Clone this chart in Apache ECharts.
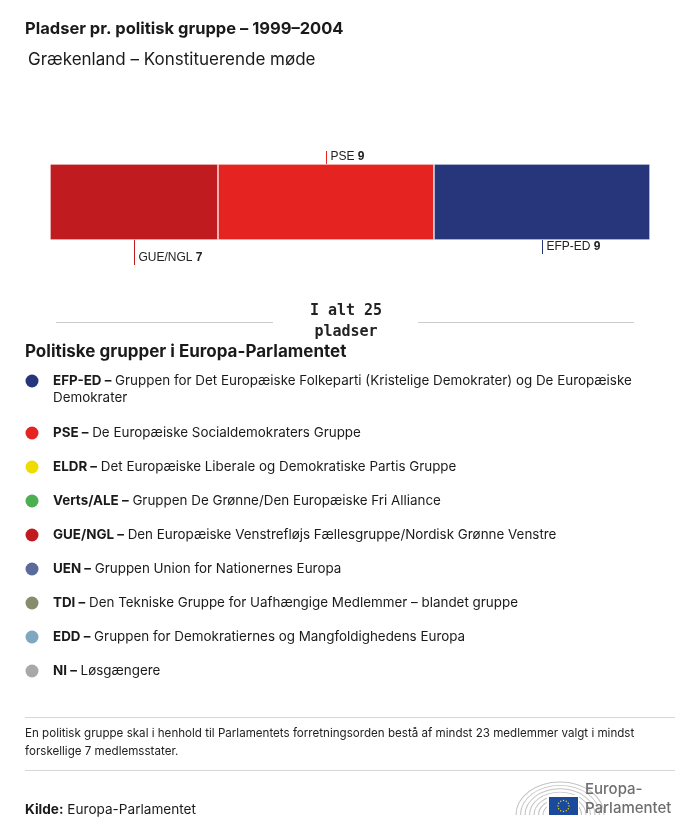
<!DOCTYPE html>
<html>
<head>
<meta charset="utf-8">
<script src="https://cdn.jsdelivr.net/npm/echarts@6/dist/echarts.min.js"></script>
<style>
html,body{margin:0;padding:0;background:#fff;}
#main{width:700px;height:836px;}
</style>
</head>
<body>
<div id="main"></div>
<script>
// ---- data ----
const groups = ['GUE/NGL', 'PSE', 'EFP-ED'];
const seats = [7, 9, 9];
const barColors = ['#C01B1E', '#E52421', '#27357B'];
const totalSeats = 25;

const legendCodes = ['EFP-ED', 'PSE', 'ELDR', 'Verts/ALE', 'GUE/NGL', 'UEN', 'TDI', 'EDD', 'NI'];
const legendNames = [
  'Gruppen for Det Europæiske Folkeparti (Kristelige Demokrater) og De Europæiske\nDemokrater',
  'De Europæiske Socialdemokraters Gruppe',
  'Det Europæiske Liberale og Demokratiske Partis Gruppe',
  'Gruppen De Grønne/Den Europæiske Fri Alliance',
  'Den Europæiske Venstrefløjs Fællesgruppe/Nordisk Grønne Venstre',
  'Gruppen Union for Nationernes Europa',
  'Den Tekniske Gruppe for Uafhængige Medlemmer – blandet gruppe',
  'Gruppen for Demokratiernes og Mangfoldighedens Europa',
  'Løsgængere'
];
const legendColors = ['#27357B', '#E52421', '#EEDC00', '#4CAF50', '#C01B1E', '#5A6A9A', '#878C6C', '#7FA7C0', '#A8A8A8'];

const titleText = 'Pladser pr. politisk gruppe – 1999–2004';
const subtitleText = 'Grækenland – Konstituerende møde';
const totalText = 'I alt ' + totalSeats + '\npladser';
const legendTitle = 'Politiske grupper i Europa-Parlamentet';
const footnote = 'En politisk gruppe skal i henhold til Parlamentets forretningsorden bestå af mindst 23 medlemmer valgt i mindst\nforskellige 7 medlemsstater.';

// ---- chart ----
const FONT = 'Inter, Roboto, sans-serif';
const LBL = '"Liberation Sans", Arial, sans-serif';
const chart = echarts.init(document.getElementById('main'), null, {renderer: 'canvas'});

const series = groups.map((g, i) => ({
  name: g,
  type: 'bar',
  stack: 'total',
  barWidth: '100%',
  data: [seats[i]],
  itemStyle: {color: barColors[i], borderColor: '#fff', borderWidth: 0.6},
  emphasis: {disabled: true},
  silent: true
}));

chart.setOption({
  animation: false,
  grid: {left: 50, right: 50, top: 164, height: 76},
  xAxis: {type: 'value', min: 0, max: totalSeats, show: false},
  yAxis: {type: 'category', data: ['Grækenland'], show: false},
  series: series
});

// ---- annotations via axis scale ----
const annotCfg = [
  {side: 'below', len: 25},
  {side: 'above', len: 13},
  {side: 'below', len: 14}
];
const barTop = 164, barBottom = 240;
const gfx = [];
let cum = 0;
groups.forEach((g, i) => {
  const mid = cum + seats[i] / 2;
  cum += seats[i];
  const x = Math.round(chart.convertToPixel({xAxisIndex: 0}, mid)) + 0.5;
  const c = annotCfg[i];
  const y1 = c.side === 'above' ? barTop - c.len : barBottom;
  const y2 = c.side === 'above' ? barTop : barBottom + c.len;
  gfx.push({type: 'line', shape: {x1: x, y1: y1, x2: x, y2: y2}, style: {stroke: barColors[i], lineWidth: 1}, silent: true});
  const ty = c.side === 'above' ? y1 + 6 : y2 - 7;
  gfx.push({
    type: 'text', x: x + 4, y: ty,
    style: {
      text: '{n|' + g + '} {v|' + seats[i] + '}',
      verticalAlign: 'middle',
      rich: {
        n: {fontFamily: LBL, fontSize: 12, fill: '#222'},
        v: {fontFamily: LBL, fontSize: 12, fontWeight: 'bold', fill: '#222'}
      }
    },
    silent: true
  });
});

// titles
gfx.push({type: 'text', x: 25, y: 29, style: {text: titleText, fontFamily: FONT, fontSize: 16.5, fontWeight: 'bold', fill: '#1a1a1a', verticalAlign: 'middle'}});
gfx.push({type: 'text', x: 28, y: 60, style: {text: subtitleText, fontFamily: FONT, fontSize: 17, fill: '#1a1a1a', verticalAlign: 'middle'}});

// total
gfx.push({type: 'line', shape: {x1: 56, y1: 322.5, x2: 273, y2: 322.5}, style: {stroke: '#cccccc', lineWidth: 1}});
gfx.push({type: 'line', shape: {x1: 418, y1: 322.5, x2: 634, y2: 322.5}, style: {stroke: '#cccccc', lineWidth: 1}});
gfx.push({type: 'text', x: 346, y: 322, style: {text: totalText, fontFamily: '"DejaVu Sans Mono", monospace', fontSize: 15, fontWeight: 'bold', fill: '#222', align: 'center', verticalAlign: 'middle', lineHeight: 21}});

// legend
gfx.push({type: 'text', x: 25, y: 352, style: {text: legendTitle, fontFamily: FONT, fontSize: 17, fontWeight: 'bold', fill: '#1a1a1a', verticalAlign: 'middle'}});
const rowY = [381, 433, 467, 501, 535, 569, 603, 637, 671];
legendCodes.forEach((code, i) => {
  gfx.push({type: 'circle', shape: {cx: 32, cy: rowY[i], r: 6.5}, style: {fill: legendColors[i]}});
  gfx.push({
    type: 'text', x: 53, y: rowY[i] - 8.5,
    style: {
      text: '{b|' + code + ' –} ' + legendNames[i],
      fontFamily: FONT, fontSize: 13.4, fill: '#1a1a1a', lineHeight: 17, verticalAlign: 'top',
      rich: {b: {fontFamily: FONT, fontSize: 13.4, fontWeight: 'bold', fill: '#1a1a1a', lineHeight: 17}}
    }
  });
});

// footnote
gfx.push({type: 'line', shape: {x1: 25, y1: 717.5, x2: 675, y2: 717.5}, style: {stroke: '#d6d6d6', lineWidth: 1}});
gfx.push({type: 'text', x: 25, y: 725, style: {text: footnote, fontFamily: FONT, fontSize: 11.6, fill: '#222', lineHeight: 18, verticalAlign: 'top'}});
gfx.push({type: 'line', shape: {x1: 25, y1: 770.5, x2: 675, y2: 770.5}, style: {stroke: '#d6d6d6', lineWidth: 1}});

// source
gfx.push({type: 'text', x: 25, y: 810, style: {text: '{b|Kilde:} Europa-Parlamentet', fontFamily: FONT, fontSize: 13.6, fill: '#1a1a1a', verticalAlign: 'middle', rich: {b: {fontFamily: FONT, fontSize: 13.6, fontWeight: 'bold', fill: '#1a1a1a'}}}});

// logo: hemicycle rings
const ringR = [44, 39.5, 35, 30.5, 26, 21.5, 17];
ringR.forEach(r => {
  gfx.push({type: 'arc', x: 560, y: 815, scaleY: 0.75, shape: {cx: 0, cy: 0, r: r, startAngle: Math.PI, endAngle: Math.PI * 2}, style: {stroke: '#c4c4c4', lineWidth: 1.1, fill: null}});
});
gfx.push({type: 'rect', shape: {x: 547, y: 795, width: 32, height: 21}, style: {fill: '#fff'}});
gfx.push({type: 'rect', shape: {x: 549, y: 797, width: 29, height: 18}, style: {fill: '#1B4A9C'}});
for (let k = 0; k < 12; k++) {
  const a = k * Math.PI / 6;
  gfx.push({type: 'circle', shape: {cx: 563.5 + 5.5 * Math.cos(a), cy: 806 + 5.5 * Math.sin(a), r: 0.7}, style: {fill: '#FFDD00'}});
}
gfx.push({type: 'text', x: 585, y: 789, style: {text: 'Europa-', fontFamily: FONT, fontSize: 15, fontWeight: 500, fill: '#6e6e6e', verticalAlign: 'middle'}});
gfx.push({type: 'text', x: 585, y: 808, style: {text: 'Parlamentet', fontFamily: FONT, fontSize: 15, fontWeight: 500, fill: '#6e6e6e', verticalAlign: 'middle'}});

chart.setOption({graphic: {elements: gfx}});
</script>
</body>
</html>
